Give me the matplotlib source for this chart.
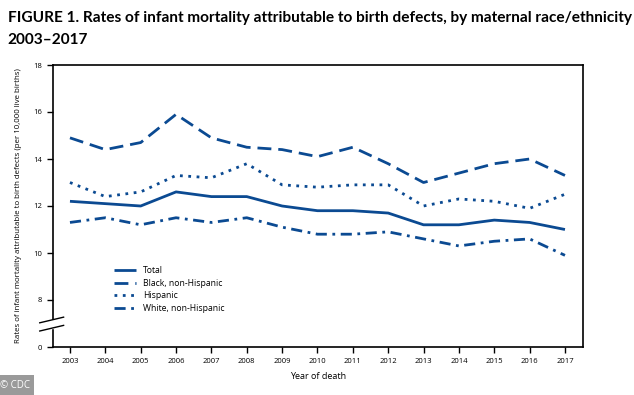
import numpy as np
from matplotlib import pyplot as plt

years = list(range(2003, 2018))
total = [12.2, 12.1, 12.0, 12.6, 12.4, 12.4, 12.0, 11.8, 11.8, 11.7, 11.2, 11.2, 11.4, 11.3, 11.0]
black = [14.9, 14.4, 14.7, 15.9, 14.9, 14.5, 14.4, 14.1, 14.5, 13.8, 13.0, 13.4, 13.8, 14.0, 13.3]
hispanic = [13.0, 12.4, 12.6, 13.3, 13.2, 13.8, 12.9, 12.8, 12.9, 12.9, 12.0, 12.3, 12.2, 11.9, 12.5]
white = [11.3, 11.5, 11.2, 11.5, 11.3, 11.5, 11.1, 10.8, 10.8, 10.9, 10.6, 10.3, 10.5, 10.6, 9.9]

ytick_vals = [6, 8, 10, 12, 14, 16, 18]
ytick_labels = ['0', '8', '10', '12', '14', '16', '18']

blue = '#0b4a92'
plt.rcParams['font.family'] = ['Open Sans', 'DejaVu Sans']

fig = plt.figure(figsize=(6.34, 3.95), dpi=100)
ax = fig.add_axes([53/634, 1 - 347/395, 530/634, 282/395])

ax.plot(years, total, color=blue, lw=2, label='Total', solid_capstyle='butt')
ax.plot(years, black, color=blue, lw=2, dashes=(5, 2.5), label='Black, non-Hispanic')
ax.plot(years, hispanic, color=blue, lw=2, dashes=(1, 2), label='Hispanic')
ax.plot(years, white, color=blue, lw=2, dashes=(4, 2, 1, 2), label='White, non-Hispanic')

ax.set_xlim(2002.52, 2017.51)
ax.set_ylim(6, 18)
ax.set_xticks(years)
ax.set_xticklabels([str(y) for y in years], fontsize=5.5)
ax.set_yticks(ytick_vals)
ax.set_yticklabels(ytick_labels, fontsize=5.5)
ax.tick_params(length=4, width=1, direction='out', pad=4)
for s in ax.spines.values():
    s.set_linewidth(1.2)

# axis break on the left spine
ax.add_patch(plt.Rectangle((-0.02, 6.8), 0.04, 0.35, transform=ax.get_yaxis_transform(),
                           color='white', clip_on=False, zorder=5))
for yb in (6.8, 7.15):
    ax.plot([-0.025, 0.02], [yb - 0.12, yb + 0.12], transform=ax.get_yaxis_transform(),
            color='black', lw=1, clip_on=False, zorder=6)

ax.set_xlabel('Year of death', fontsize=6.5, labelpad=5)
ax.set_ylabel('Rates of infant mortality attributable to birth defects (per 10,000 live births)',
              fontsize=5.7, labelpad=8)

ax.legend(loc='upper left', bbox_to_anchor=(0.1, 0.313), frameon=False, fontsize=6.2,
          handlelength=2.6, labelspacing=0.4)

fig.text(0.012, 0.955, 'FIGURE 1. Rates of infant mortality attributable to birth defects, by maternal race/ethnicity',
         fontsize=11.1, fontweight='bold', ha='left', va='center', family='Lato')
fig.text(0.012, 0.9, '2003\u20132017', fontsize=11.1, fontweight='bold', ha='left', va='center',
         family='Lato')
fig.text(0.0, 0.025, '\u00a9 CDC', fontsize=7, color='white', ha='left', va='center',
         bbox=dict(facecolor='#9a9a9a', edgecolor='none', pad=3))

fig.savefig('out.png', dpi=100)
